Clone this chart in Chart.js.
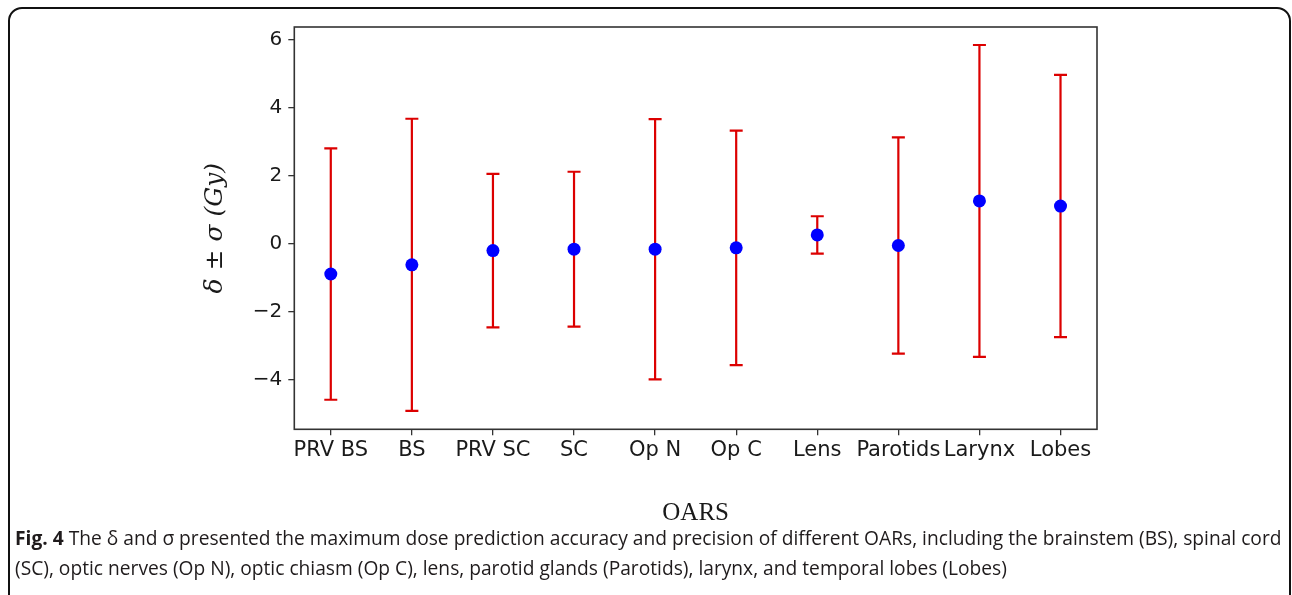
<!DOCTYPE html>
<html>
<head>
<meta charset="utf-8">
<script src="https://cdn.jsdelivr.net/npm/chart.js@4.4.1/dist/chart.umd.min.js"></script>
<style>
  html, body { margin: 0; padding: 0; background: #fff; }
  body { width: 1292px; height: 595px; position: relative; overflow: hidden; }
  #wrap { position: absolute; left: 0; top: 0; width: 1292px; height: 595px; }
  #frame { position: absolute; left: 8px; top: 7px; width: 1283px; height: 610px;
           border: 2px solid #111; border-radius: 14px; box-sizing: border-box; }
  #caption { position: absolute; left: 15px; top: 523px; font-family: "Open Sans", sans-serif;
             font-size: 19.2px; line-height: 30px; color: #1f1b1c; white-space: nowrap; }
  #caption b { font-weight: 700; }
</style>
</head>
<body>
<div id="frame"></div>
<div id="wrap"><canvas id="c" width="1292" height="595"></canvas></div>
<div id="caption"><b>Fig. 4</b> The δ and σ presented the maximum dose prediction accuracy and precision of different OARs, including the brainstem (BS), spinal cord<br>(SC), optic nerves (Op N), optic chiasm (Op C), lens, parotid glands (Parotids), larynx, and temporal lobes (Lobes)</div>
<script>
const categories = ["PRV BS", "BS", "PRV SC", "SC", "Op N", "Op C", "Lens", "Parotids", "Larynx", "Lobes"];
const delta = [-0.89, -0.62, -0.20, -0.16, -0.16, -0.12, 0.26, -0.05, 1.26, 1.11];
const sigma = [3.70, 4.30, 2.26, 2.28, 3.83, 3.45, 0.55, 3.18, 4.59, 3.86];
const yTicks = [-4, -2, 0, 2, 4, 6];

const errorBarPlugin = {
  id: 'errorBars',
  beforeDatasetsDraw(chart) {
    const ctx = chart.ctx;
    const xs = chart.scales.x, ys = chart.scales.y;
    ctx.save();
    ctx.strokeStyle = '#dc0000';
    ctx.lineWidth = 2.2;
    const cap = 6.5;
    delta.forEach((d, i) => {
      const x = xs.getPixelForValue(i);
      const yTop = ys.getPixelForValue(d + sigma[i]);
      const yBot = ys.getPixelForValue(d - sigma[i]);
      ctx.beginPath();
      ctx.moveTo(x, yTop); ctx.lineTo(x, yBot);
      ctx.moveTo(x - cap, yTop); ctx.lineTo(x + cap, yTop);
      ctx.moveTo(x - cap, yBot); ctx.lineTo(x + cap, yBot);
      ctx.stroke();
    });
    ctx.restore();
  }
};

const boxPlugin = {
  id: 'box',
  afterDraw(chart) {
    const {left, top, right, bottom} = chart.chartArea;
    const ctx = chart.ctx;
    ctx.save();
    ctx.strokeStyle = '#333';
    ctx.lineWidth = 1.6;
    ctx.strokeRect(left, top, right - left, bottom - top);
    ctx.restore();
  }
};

new Chart(document.getElementById('c'), {
  type: 'scatter',
  data: {
    datasets: [{
      data: delta.map((d, i) => ({x: i, y: d})),
      backgroundColor: '#0000ff',
      borderColor: '#0000ff',
      pointRadius: 6.5,
      pointHoverRadius: 6.5,
      borderWidth: 0
    }]
  },
  options: {
    responsive: false,
    animation: false,
    events: [],
    layout: { padding: { left: 0, top: 27, right: 195, bottom: 0 } },
    plugins: { legend: { display: false }, tooltip: { enabled: false } },
    scales: {
      x: {
        type: 'linear',
        min: -0.45, max: 9.45,
        afterFit: s => { s.height = 165.7; },
        afterBuildTicks: s => { s.ticks = categories.map((c, i) => ({value: i})); },
        grid: { display: true, drawOnChartArea: false, drawTicks: true, tickLength: 6, color: '#333', lineWidth: 1.3 },
        border: { display: false },
        ticks: {
          autoSkip: false, maxRotation: 0, padding: 3, color: '#1a1a1a',
          font: { family: 'DejaVu Sans', size: 21 },
          callback: (v) => categories[v]
        },
        title: {
          display: true, text: 'OARS', color: '#1a1a1a',
          font: { family: 'Liberation Serif', size: 25 },
          padding: { top: 0, bottom: 67 }
        }
      },
      y: {
        type: 'linear',
        min: -5.46, max: 6.38,
        afterFit: s => { s.width = 294.3; },
        afterBuildTicks: s => { s.ticks = yTicks.map(v => ({value: v})); },
        grid: { display: true, drawOnChartArea: false, drawTicks: true, tickLength: 6, color: '#333', lineWidth: 1.3 },
        border: { display: false },
        ticks: {
          padding: 6, color: '#1a1a1a',
          font: { family: 'DejaVu Sans', size: 20 },
          callback: (v) => (v < 0 ? '\u2212' + Math.abs(v) : String(v))
        },
        title: {
          display: true, text: 'δ ± σ (Gy)', color: '#1a1a1a',
          font: { family: 'DejaVu Serif', size: 25, style: 'italic' },
          padding: { top: 200, bottom: 0 }
        }
      }
    }
  },
  plugins: [errorBarPlugin, boxPlugin]
});
</script>
</body>
</html>
